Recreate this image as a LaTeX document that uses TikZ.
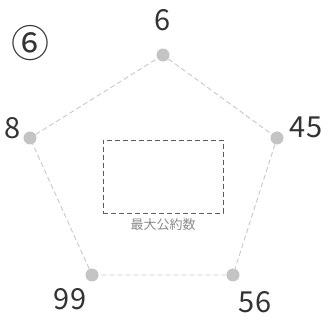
\documentclass[tikz,border=0pt]{standalone}
\usepackage{fontspec}
\setmainfont{Noto Sans CJK JP}
\usetikzlibrary{positioning}
\definecolor{dotgray}{HTML}{C4C4C4}
\definecolor{linegray}{HTML}{C8C8C8}
\definecolor{boxgray}{HTML}{5A5A5A}
\definecolor{numgray}{HTML}{333333}
\definecolor{labgray}{HTML}{8A8A8A}
\begin{document}
\begin{tikzpicture}[x=1pt, y=-1pt,
	pt/.style={circle, fill=dotgray, inner sep=0pt, minimum size=13pt},
	edge/.style={draw=linegray, dash pattern=on 5pt off 3pt, line width=0.9pt},
	num/.style={text=numgray, font=\fontsize{29}{29}\selectfont, inner sep=0pt}]
	\useasboundingbox (0,0) rectangle (335,320);
	\node[pt] (a) at (163,55) {};
	\node[pt] (b) at (277,138) {};
	\node[pt] (c) at (233,275) {};
	\node[pt] (d) at (92,275) {};
	\node[pt] (e) at (30,138) {};
	\draw[edge] (a) -- (b) -- (c) -- (d) -- (e) -- (a);
	\node[num] (na) at (163,20) {6};
	\node[num] (nb) at (306,127) {45};
	\node[num] (nc) at (255,302) {56};
	\node[num] (nd) at (70,299) {99};
	\node[num] (ne) at (13,128) {8};
	\node[num, font=\fontsize{38}{38}\selectfont] (tag) at (30,43) {⑥};
	\node[draw=boxgray, dash pattern=on 5pt off 3pt, line width=0.9pt, minimum width=120pt, minimum height=73pt, inner sep=0pt] (box) at (163,176.5) {};
	\node[text=labgray, font=\fontsize{13}{13}\selectfont, below=5pt of box.south, inner sep=0pt] (lab) {最大公約数};
\end{tikzpicture}
\end{document}
